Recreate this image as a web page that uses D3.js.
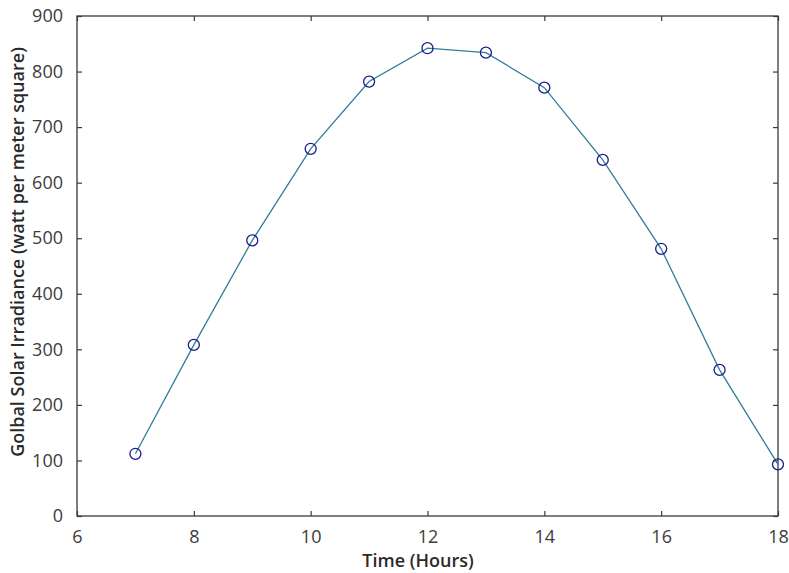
<!DOCTYPE html>
<html><head><meta charset="utf-8">
<script src="https://cdn.jsdelivr.net/npm/d3@7"></script>
<style>body{margin:0;background:#fff;} text{font-family:"Open Sans",sans-serif;}</style>
</head><body>
<svg id="c" width="789" height="573"></svg>
<script>
const hours = [7,8,9,10,11,12,13,14,15,16,17,18];
const irradiance = [112,308,496,661,782,842,834,771,641,481,263,93];
const xTicks = [6,8,10,12,14,16,18];
const yTicks = [0,100,200,300,400,500,600,700,800,900];

const svg = d3.select("#c");
const L=77,R=778,T=16,B=516;
const x = d3.scaleLinear().domain([6,18]).range([L,R]);
const y = d3.scaleLinear().domain([0,900]).range([B,T]);
const axisColor="#3a3a3a", textColor="#3c3c3c";

svg.append("rect").attr("x",L).attr("y",T).attr("width",R-L).attr("height",B-T)
 .attr("fill","none").attr("stroke",axisColor).attr("stroke-width",1.3);

function styleAxis(sel){
  sel.select(".domain").remove();
  sel.selectAll("line").attr("stroke",axisColor).attr("stroke-width",1.2);
  sel.selectAll("text").attr("fill",textColor).style("font-size","18px").style("font-family","'Open Sans',sans-serif");
}
svg.append("g").attr("transform",`translate(0,${B})`)
 .call(d3.axisBottom(x).tickValues(xTicks).tickSize(-5).tickPadding(14).tickFormat(d3.format("d"))).call(styleAxis);
svg.append("g").attr("transform",`translate(0,${T})`)
 .call(d3.axisTop(x).tickValues(xTicks).tickSize(-5).tickFormat("")).call(styleAxis);
svg.append("g").attr("transform",`translate(${L},0)`)
 .call(d3.axisLeft(y).tickValues(yTicks).tickSize(-5).tickPadding(14).tickFormat(d3.format("d"))).call(styleAxis);
svg.append("g").attr("transform",`translate(${R},0)`)
 .call(d3.axisRight(y).tickValues(yTicks).tickSize(-5).tickFormat("")).call(styleAxis);

const data = hours.map((h,i)=>({h,v:irradiance[i]}));
const line = d3.line().x(d=>x(d.h)).y(d=>y(d.v));
svg.append("path").datum(data).attr("d",line).attr("fill","none")
 .attr("stroke","#2f7f98").attr("stroke-width",1.3);
svg.selectAll("circle.m").data(data).enter().append("circle")
 .attr("cx",d=>x(d.h)).attr("cy",d=>y(d.v)).attr("r",5.5)
 .attr("fill","none").attr("stroke","#1c1c8a").attr("stroke-width",1.3);

svg.append("text").attr("x",418).attr("y",567).attr("text-anchor","middle")
 .attr("fill","#2a2a2a").style("font-size","18px").style("font-weight","600").text("Time (Hours)");
svg.append("text").attr("transform",`translate(24,252) rotate(-90)`).attr("text-anchor","middle")
 .attr("fill","#2a2a2a").style("font-size","18px").style("font-weight","600").text("Golbal Solar Irradiance (watt per meter square)");
</script>
</body></html>
